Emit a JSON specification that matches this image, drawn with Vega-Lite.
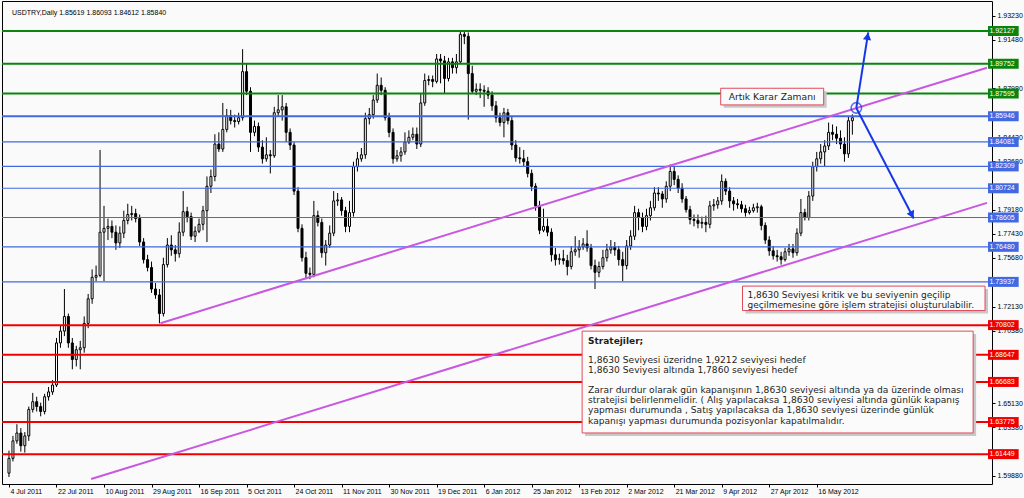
{
"$schema":"https://vega.github.io/schema/vega-lite/v6.json",
"width":990,"height":483,
"autosize":{"type":"none"},
"padding":{"left":2,"top":1,"right":32,"bottom":14},
"background":"#FAFAFA",
"config":{"view":{"stroke":"#000000","strokeWidth":1,"fill":"#FAFAFA"},"font":"Liberation Sans"},
"resolve":{"axis":{"x":"independent","y":"independent"}},
"datasets":{
"candles":[
{"i":0,"o":1.6007,"h":1.617,"l":1.5979,"c":1.6114},{"i":1,"o":1.6114,"h":1.6277,"l":1.6092,"c":1.6241},{"i":2,"o":1.6241,"h":1.6362,"l":1.622,"c":1.6298},{"i":3,"o":1.6298,"h":1.6334,"l":1.6163,"c":1.6206},{"i":4,"o":1.6206,"h":1.6305,"l":1.6156,"c":1.6277},{"i":5,"o":1.6277,"h":1.649,"l":1.6241,"c":1.6469},{"i":6,"o":1.6469,"h":1.6589,"l":1.6447,"c":1.6525},{"i":7,"o":1.6525,"h":1.6561,"l":1.6454,"c":1.649},{"i":8,"o":1.649,"h":1.6518,"l":1.6419,"c":1.6454},{"i":9,"o":1.6454,"h":1.6582,"l":1.6433,"c":1.6561},
{"i":10,"o":1.6561,"h":1.6632,"l":1.6533,"c":1.6596},{"i":11,"o":1.6596,"h":1.6682,"l":1.6575,"c":1.6646},{"i":12,"o":1.6646,"h":1.6987,"l":1.6632,"c":1.6951},{"i":13,"o":1.6951,"h":1.7079,"l":1.6916,"c":1.7037},{"i":14,"o":1.7037,"h":1.7342,"l":1.7001,"c":1.7143},{"i":15,"o":1.7143,"h":1.7164,"l":1.6916,"c":1.6951},{"i":16,"o":1.6951,"h":1.6987,"l":1.676,"c":1.6831},{"i":17,"o":1.6831,"h":1.693,"l":1.6781,"c":1.6902},{"i":18,"o":1.6902,"h":1.6966,"l":1.676,"c":1.6916},{"i":19,"o":1.6916,"h":1.7143,"l":1.688,"c":1.7093},
{"i":20,"o":1.7093,"h":1.7306,"l":1.7058,"c":1.7271},{"i":21,"o":1.7271,"h":1.7484,"l":1.7235,"c":1.7427},{"i":22,"o":1.7427,"h":1.7512,"l":1.7399,"c":1.7441},{"i":23,"o":1.7441,"h":1.835,"l":1.7427,"c":1.7754},{"i":24,"o":1.7754,"h":1.7945,"l":1.7399,"c":1.7782},{"i":25,"o":1.7782,"h":1.7853,"l":1.7697,"c":1.7796},{"i":26,"o":1.7796,"h":1.7839,"l":1.7711,"c":1.7754},{"i":27,"o":1.7754,"h":1.7803,"l":1.7626,"c":1.7676},{"i":28,"o":1.7676,"h":1.7796,"l":1.764,"c":1.7747},{"i":29,"o":1.7747,"h":1.791,"l":1.7711,"c":1.7839},
{"i":30,"o":1.7839,"h":1.796,"l":1.7811,"c":1.7882},{"i":31,"o":1.7882,"h":1.7945,"l":1.7839,"c":1.7889},{"i":32,"o":1.7889,"h":1.7924,"l":1.7825,"c":1.7853},{"i":33,"o":1.7853,"h":1.7882,"l":1.7654,"c":1.7683},{"i":34,"o":1.7683,"h":1.7711,"l":1.7527,"c":1.7555},{"i":35,"o":1.7555,"h":1.759,"l":1.747,"c":1.7498},{"i":36,"o":1.7498,"h":1.7541,"l":1.7314,"c":1.7342},{"i":37,"o":1.7342,"h":1.7385,"l":1.7271,"c":1.7299},{"i":38,"o":1.7299,"h":1.7342,"l":1.7093,"c":1.7164},{"i":39,"o":1.7164,"h":1.7569,"l":1.7143,"c":1.7519},
{"i":40,"o":1.7519,"h":1.7711,"l":1.7498,"c":1.7661},{"i":41,"o":1.7661,"h":1.7732,"l":1.7583,"c":1.7626},{"i":42,"o":1.7626,"h":1.7661,"l":1.7541,"c":1.7598},{"i":43,"o":1.7598,"h":1.7825,"l":1.7569,"c":1.7754},{"i":44,"o":1.7754,"h":1.8052,"l":1.7725,"c":1.7903},{"i":45,"o":1.7903,"h":1.7938,"l":1.7825,"c":1.7867},{"i":46,"o":1.7867,"h":1.7896,"l":1.7697,"c":1.7725},{"i":47,"o":1.7725,"h":1.7796,"l":1.7683,"c":1.7761},{"i":48,"o":1.7761,"h":1.7853,"l":1.7747,"c":1.7811},{"i":49,"o":1.7811,"h":1.7945,"l":1.7768,"c":1.791},
{"i":50,"o":1.791,"h":1.8158,"l":1.7683,"c":1.8087},{"i":51,"o":1.8087,"h":1.8208,"l":1.8038,"c":1.8158},{"i":52,"o":1.8158,"h":1.8464,"l":1.8123,"c":1.8393},{"i":53,"o":1.8393,"h":1.8478,"l":1.8336,"c":1.8357},{"i":54,"o":1.8357,"h":1.8691,"l":1.8336,"c":1.8499},{"i":55,"o":1.8499,"h":1.8648,"l":1.8478,"c":1.8599},{"i":56,"o":1.8599,"h":1.8641,"l":1.8535,"c":1.8563},{"i":57,"o":1.8563,"h":1.8606,"l":1.8513,"c":1.8556},{"i":58,"o":1.8556,"h":1.862,"l":1.8535,"c":1.8584},{"i":59,"o":1.8584,"h":1.9081,"l":1.8563,"c":1.8918},
{"i":60,"o":1.8918,"h":1.8975,"l":1.8748,"c":1.8776},{"i":61,"o":1.8776,"h":1.8805,"l":1.8336,"c":1.8478},{"i":62,"o":1.8478,"h":1.8563,"l":1.845,"c":1.8521},{"i":63,"o":1.8521,"h":1.8549,"l":1.8336,"c":1.8371},{"i":64,"o":1.8371,"h":1.8421,"l":1.8251,"c":1.8286},{"i":65,"o":1.8286,"h":1.8442,"l":1.8265,"c":1.8315},{"i":66,"o":1.8315,"h":1.835,"l":1.818,"c":1.8308},{"i":67,"o":1.8308,"h":1.8663,"l":1.8293,"c":1.862},{"i":68,"o":1.862,"h":1.8748,"l":1.8592,"c":1.8641},{"i":69,"o":1.8641,"h":1.8748,"l":1.8563,"c":1.8663},
{"i":70,"o":1.8663,"h":1.8691,"l":1.8407,"c":1.8478},{"i":71,"o":1.8478,"h":1.8506,"l":1.835,"c":1.8386},{"i":72,"o":1.8386,"h":1.8407,"l":1.8024,"c":1.8052},{"i":73,"o":1.8052,"h":1.808,"l":1.7754,"c":1.7782},{"i":74,"o":1.7782,"h":1.7811,"l":1.7541,"c":1.7569},{"i":75,"o":1.7569,"h":1.7612,"l":1.7413,"c":1.7456},{"i":76,"o":1.7456,"h":1.7498,"l":1.7413,"c":1.7448},{"i":77,"o":1.7448,"h":1.7981,"l":1.7427,"c":1.7874},{"i":78,"o":1.7874,"h":1.791,"l":1.7796,"c":1.7825},{"i":79,"o":1.7825,"h":1.7853,"l":1.7569,"c":1.7605},
{"i":80,"o":1.7605,"h":1.7697,"l":1.7512,"c":1.7661},{"i":81,"o":1.7661,"h":1.7803,"l":1.764,"c":1.7747},{"i":82,"o":1.7747,"h":1.8052,"l":1.7725,"c":1.7981},{"i":83,"o":1.7981,"h":1.8038,"l":1.7945,"c":1.7988},{"i":84,"o":1.7988,"h":1.8009,"l":1.7874,"c":1.791},{"i":85,"o":1.791,"h":1.7938,"l":1.7754,"c":1.7796},{"i":86,"o":1.7796,"h":1.7981,"l":1.7754,"c":1.7896},{"i":87,"o":1.7896,"h":1.8265,"l":1.7867,"c":1.8229},{"i":88,"o":1.8229,"h":1.8336,"l":1.8194,"c":1.8286},{"i":89,"o":1.8286,"h":1.8364,"l":1.8265,"c":1.8315},
{"i":90,"o":1.8315,"h":1.862,"l":1.8286,"c":1.8577},{"i":91,"o":1.8577,"h":1.8655,"l":1.8535,"c":1.8606},{"i":92,"o":1.8606,"h":1.8748,"l":1.8577,"c":1.8712},{"i":93,"o":1.8712,"h":1.8904,"l":1.8691,"c":1.8819},{"i":94,"o":1.8819,"h":1.8876,"l":1.8748,"c":1.8783},{"i":95,"o":1.8783,"h":1.8805,"l":1.8563,"c":1.8584},{"i":96,"o":1.8584,"h":1.862,"l":1.8442,"c":1.8478},{"i":97,"o":1.8478,"h":1.8506,"l":1.8251,"c":1.8286},{"i":98,"o":1.8286,"h":1.835,"l":1.8265,"c":1.8308},{"i":99,"o":1.8308,"h":1.8371,"l":1.8265,"c":1.8336},
{"i":100,"o":1.8336,"h":1.8478,"l":1.8315,"c":1.8407},{"i":101,"o":1.8407,"h":1.8492,"l":1.8393,"c":1.8442},{"i":102,"o":1.8442,"h":1.8513,"l":1.8421,"c":1.8464},{"i":103,"o":1.8464,"h":1.8513,"l":1.8357,"c":1.8393},{"i":104,"o":1.8393,"h":1.8762,"l":1.8371,"c":1.8691},{"i":105,"o":1.8691,"h":1.8904,"l":1.867,"c":1.8854},{"i":106,"o":1.8854,"h":1.889,"l":1.8819,"c":1.8861},{"i":107,"o":1.8861,"h":1.889,"l":1.8805,"c":1.8847},{"i":108,"o":1.8847,"h":1.9046,"l":1.8833,"c":1.901},{"i":109,"o":1.901,"h":1.9046,"l":1.8833,"c":1.8996},
{"i":110,"o":1.8996,"h":1.9032,"l":1.8762,"c":1.8868},{"i":111,"o":1.8868,"h":1.9018,"l":1.8847,"c":1.8989},{"i":112,"o":1.8989,"h":1.9018,"l":1.8904,"c":1.8947},{"i":113,"o":1.8947,"h":1.9046,"l":1.8904,"c":1.8989},{"i":114,"o":1.8989,"h":1.9209,"l":1.8975,"c":1.9188},{"i":115,"o":1.9188,"h":1.9209,"l":1.9117,"c":1.9174},{"i":116,"o":1.9174,"h":1.9202,"l":1.857,"c":1.8904},{"i":117,"o":1.8904,"h":1.8961,"l":1.8762,"c":1.8776},{"i":118,"o":1.8776,"h":1.8833,"l":1.8748,"c":1.879},{"i":119,"o":1.879,"h":1.8833,"l":1.8726,"c":1.8783},
{"i":120,"o":1.8783,"h":1.8819,"l":1.8663,"c":1.8776},{"i":121,"o":1.8776,"h":1.8805,"l":1.8719,"c":1.8748},{"i":122,"o":1.8748,"h":1.8776,"l":1.8634,"c":1.867},{"i":123,"o":1.867,"h":1.8705,"l":1.8549,"c":1.8584},{"i":124,"o":1.8584,"h":1.862,"l":1.8521,"c":1.8549},{"i":125,"o":1.8549,"h":1.8655,"l":1.8442,"c":1.862},{"i":126,"o":1.862,"h":1.8648,"l":1.8535,"c":1.8563},{"i":127,"o":1.8563,"h":1.8592,"l":1.835,"c":1.8386},{"i":128,"o":1.8386,"h":1.8421,"l":1.8265,"c":1.8293},{"i":129,"o":1.8293,"h":1.8371,"l":1.8251,"c":1.8286},
{"i":130,"o":1.8286,"h":1.835,"l":1.8229,"c":1.8265},{"i":131,"o":1.8265,"h":1.83,"l":1.8151,"c":1.818},{"i":132,"o":1.818,"h":1.8208,"l":1.8052,"c":1.8087},{"i":133,"o":1.8087,"h":1.8109,"l":1.791,"c":1.7945},{"i":134,"o":1.7945,"h":1.7981,"l":1.774,"c":1.7768},{"i":135,"o":1.7768,"h":1.7924,"l":1.7754,"c":1.7796},{"i":136,"o":1.7796,"h":1.7853,"l":1.7725,"c":1.7754},{"i":137,"o":1.7754,"h":1.7782,"l":1.7541,"c":1.759},{"i":138,"o":1.759,"h":1.764,"l":1.7512,"c":1.7555},{"i":139,"o":1.7555,"h":1.7598,"l":1.7519,"c":1.7562},
{"i":140,"o":1.7562,"h":1.7626,"l":1.7519,"c":1.7548},{"i":141,"o":1.7548,"h":1.759,"l":1.7441,"c":1.7505},{"i":142,"o":1.7505,"h":1.7654,"l":1.7484,"c":1.7612},{"i":143,"o":1.7612,"h":1.7725,"l":1.7583,"c":1.7626},{"i":144,"o":1.7626,"h":1.7697,"l":1.7569,"c":1.7647},{"i":145,"o":1.7647,"h":1.7711,"l":1.7626,"c":1.7669},{"i":146,"o":1.7669,"h":1.7768,"l":1.7612,"c":1.764},{"i":147,"o":1.764,"h":1.7669,"l":1.7484,"c":1.7512},{"i":148,"o":1.7512,"h":1.7555,"l":1.7342,"c":1.7463},{"i":149,"o":1.7463,"h":1.7541,"l":1.7427,"c":1.7505},
{"i":150,"o":1.7505,"h":1.7626,"l":1.7484,"c":1.7569},{"i":151,"o":1.7569,"h":1.7669,"l":1.7541,"c":1.7626},{"i":152,"o":1.7626,"h":1.7697,"l":1.7598,"c":1.7647},{"i":153,"o":1.7647,"h":1.7683,"l":1.7583,"c":1.7626},{"i":154,"o":1.7626,"h":1.7654,"l":1.7512,"c":1.7555},{"i":155,"o":1.7555,"h":1.7612,"l":1.7399,"c":1.7512},{"i":156,"o":1.7512,"h":1.7697,"l":1.7484,"c":1.7654},{"i":157,"o":1.7654,"h":1.7768,"l":1.7626,"c":1.7725},{"i":158,"o":1.7725,"h":1.7945,"l":1.7697,"c":1.7896},{"i":159,"o":1.7896,"h":1.7924,"l":1.7768,"c":1.786},
{"i":160,"o":1.786,"h":1.7896,"l":1.7754,"c":1.7796},{"i":161,"o":1.7796,"h":1.7924,"l":1.7768,"c":1.7874},{"i":162,"o":1.7874,"h":1.7981,"l":1.7839,"c":1.7931},{"i":163,"o":1.7931,"h":1.808,"l":1.791,"c":1.8038},{"i":164,"o":1.8038,"h":1.808,"l":1.7981,"c":1.8031},{"i":165,"o":1.8031,"h":1.8052,"l":1.7931,"c":1.7995},{"i":166,"o":1.7995,"h":1.8123,"l":1.7967,"c":1.8087},{"i":167,"o":1.8087,"h":1.8244,"l":1.8052,"c":1.8194},{"i":168,"o":1.8194,"h":1.8229,"l":1.8095,"c":1.8137},{"i":169,"o":1.8137,"h":1.8166,"l":1.8038,"c":1.8073},
{"i":170,"o":1.8073,"h":1.8109,"l":1.7967,"c":1.7995},{"i":171,"o":1.7995,"h":1.8016,"l":1.7896,"c":1.7917},{"i":172,"o":1.7917,"h":1.7945,"l":1.7811,"c":1.7846},{"i":173,"o":1.7846,"h":1.7882,"l":1.7796,"c":1.7839},{"i":174,"o":1.7839,"h":1.7882,"l":1.7782,"c":1.7818},{"i":175,"o":1.7818,"h":1.7867,"l":1.7782,"c":1.7825},{"i":176,"o":1.7825,"h":1.7874,"l":1.7754,"c":1.7811},{"i":177,"o":1.7811,"h":1.7981,"l":1.7782,"c":1.7945},{"i":178,"o":1.7945,"h":1.7995,"l":1.791,"c":1.7953},{"i":179,"o":1.7953,"h":1.8009,"l":1.7924,"c":1.7981},
{"i":180,"o":1.7981,"h":1.8173,"l":1.7953,"c":1.8123},{"i":181,"o":1.8123,"h":1.8144,"l":1.8024,"c":1.8052},{"i":182,"o":1.8052,"h":1.808,"l":1.7931,"c":1.7981},{"i":183,"o":1.7981,"h":1.8009,"l":1.791,"c":1.796},{"i":184,"o":1.796,"h":1.7995,"l":1.7924,"c":1.7953},{"i":185,"o":1.7953,"h":1.7981,"l":1.7896,"c":1.7924},{"i":186,"o":1.7924,"h":1.7953,"l":1.7867,"c":1.7896},{"i":187,"o":1.7896,"h":1.7938,"l":1.7882,"c":1.791},{"i":188,"o":1.791,"h":1.796,"l":1.7896,"c":1.7931},{"i":189,"o":1.7931,"h":1.7967,"l":1.7896,"c":1.7938},
{"i":190,"o":1.7938,"h":1.7953,"l":1.7768,"c":1.7803},{"i":191,"o":1.7803,"h":1.7825,"l":1.7669,"c":1.7697},{"i":192,"o":1.7697,"h":1.7725,"l":1.7583,"c":1.7619},{"i":193,"o":1.7619,"h":1.7654,"l":1.7555,"c":1.7583},{"i":194,"o":1.7583,"h":1.7626,"l":1.7541,"c":1.7576},{"i":195,"o":1.7576,"h":1.7612,"l":1.7519,"c":1.7555},{"i":196,"o":1.7555,"h":1.764,"l":1.7541,"c":1.7612},{"i":197,"o":1.7612,"h":1.7669,"l":1.7583,"c":1.7633},{"i":198,"o":1.7633,"h":1.7669,"l":1.7569,"c":1.7605},{"i":199,"o":1.7605,"h":1.7782,"l":1.7583,"c":1.7747},
{"i":200,"o":1.7747,"h":1.7995,"l":1.7725,"c":1.7896},{"i":201,"o":1.7896,"h":1.7924,"l":1.7839,"c":1.786},{"i":202,"o":1.786,"h":1.8052,"l":1.7839,"c":1.8016},{"i":203,"o":1.8016,"h":1.8265,"l":1.7981,"c":1.8229},{"i":204,"o":1.8229,"h":1.8336,"l":1.8194,"c":1.8286},{"i":205,"o":1.8286,"h":1.8393,"l":1.8251,"c":1.8336},{"i":206,"o":1.8336,"h":1.8421,"l":1.8229,"c":1.8379},{"i":207,"o":1.8379,"h":1.8549,"l":1.835,"c":1.8478},{"i":208,"o":1.8478,"h":1.8535,"l":1.8421,"c":1.8464},{"i":209,"o":1.8464,"h":1.8521,"l":1.8393,"c":1.8435},
{"i":210,"o":1.8435,"h":1.8492,"l":1.8357,"c":1.8393},{"i":211,"o":1.8393,"h":1.8442,"l":1.8265,"c":1.8322},{"i":212,"o":1.8322,"h":1.8592,"l":1.8293,"c":1.8562},{"i":213,"o":1.85619,"h":1.86093,"l":1.84612,"c":1.8584}
],
"levels":[
{"v":1.92127,"k":"g"},{"v":1.89752,"k":"g"},{"v":1.87595,"k":"g"},
{"v":1.85946,"k":"b"},{"v":1.84081,"k":"b"},{"v":1.82309,"k":"b"},{"v":1.80724,"k":"b"},{"v":1.78605,"k":"b"},{"v":1.7648,"k":"b"},{"v":1.73937,"k":"b"},
{"v":1.70802,"k":"r"},{"v":1.68647,"k":"r"},{"v":1.66683,"k":"r"},{"v":1.63775,"k":"r"},{"v":1.61449,"k":"r"}
],
"trend":[
{"t":"upper","i":38.25,"p":1.70935},{"t":"upper","i":247,"p":1.89466},
{"t":"lower","i":20.75,"p":1.59646},{"t":"lower","i":247,"p":1.79668}
],
"arrows":[
{"a":"up","i":214,"p":1.8655},{"a":"up","i":217,"p":1.92022},
{"a":"down","i":214,"p":1.8655},{"a":"down","i":228.5,"p":1.78532}
]
},
"layer":[
{"data":{"name":"candles"},"mark":{"type":"rule","color":"#000000","strokeWidth":1},
"encoding":{
"x":{"field":"i","type":"quantitative","scale":{"domain":[-0.5,247],"nice":false,"zero":false},
 "axis":{"values":[0,12,24,36,48,60,72,84,96,108,120,132,144,156,168,180,192,204],
 "labelExpr":"['4 Jul 2011','22 Jul 2011','10 Aug 2011','29 Aug 2011','16 Sep 2011','5 Oct 2011','24 Oct 2011','11 Nov 2011','30 Nov 2011','19 Dec 2011','6 Jan 2012','25 Jan 2012','13 Feb 2012','2 Mar 2012','21 Mar 2012','9 Apr 2012','27 Apr 2012','16 May 2012'][round(datum.value/12)]",
 "grid":false,"domain":false,"tickSize":3,"tickColor":"#000000","labelFont":"Liberation Sans","labelFontSize":7,"labelColor":"#000000","labelAlign":"left","labelBaseline":"top","labelPadding":0,"labelOffset":1,"labelFlush":false,"labelOverlap":false,"title":null}},
"y":{"field":"l","type":"quantitative","scale":{"domain":[1.59646,1.93939],"nice":false,"zero":false},
 "axis":{"orient":"right","values":[1.9323,1.9148,1.8798,1.8443,1.8268,1.7918,1.7743,1.7568,1.7213,1.7038,1.6513,1.6338,1.5988],
 "format":".5f","grid":false,"domain":false,"tickSize":3,"tickColor":"#000000","labelPadding":2,"labelFont":"Liberation Sans","labelFontSize":7,"labelColor":"#000000","labelOverlap":false,"labelFlush":false,"title":null}},
"y2":{"field":"h"}}},
{"data":{"name":"candles"},"mark":{"type":"bar","size":2,"stroke":"#000000","strokeWidth":1},
"encoding":{
"x":{"field":"i","type":"quantitative","axis":null},
"y":{"field":"o","type":"quantitative","axis":null},
"y2":{"field":"c"},
"fill":{"condition":{"test":"datum.c >= datum.o","value":"#FFFFFF"},"value":"#000000"}}},
{"data":{"name":"levels"},"mark":{"type":"rule"},
"encoding":{
"y":{"field":"v","type":"quantitative","axis":null},
"color":{"field":"k","type":"nominal","scale":{"domain":["g","b","r"],"range":["#0B840B","#4169E1","#F00000"]},"legend":null},
"strokeWidth":{"condition":{"test":"datum.k == 'b' && datum.v != 1.85946","value":1.2},"value":2}}},
{"data":{"name":"trend"},"mark":{"type":"line","color":"#C858E0","strokeWidth":2,"clip":true},
"encoding":{
"x":{"field":"i","type":"quantitative","axis":null},
"y":{"field":"p","type":"quantitative","axis":null},
"detail":{"field":"t"}}},
{"data":{"name":"arrows"},"mark":{"type":"line","color":"#1638E6","strokeWidth":2},
"encoding":{
"x":{"field":"i","type":"quantitative","axis":null},
"y":{"field":"p","type":"quantitative","axis":null},
"detail":{"field":"a"}}},
{"data":{"values":[{"label":"1,8630"}]},"mark":{"type":"point","shape":"circle","size":110,"filled":false,"stroke":"#1638E6","strokeWidth":1.6},
"encoding":{"x":{"datum":214,"axis":null},"y":{"datum":1.8655,"axis":null}}},
{"data":{"values":[{"label":"up"}]},"mark":{"type":"point","shape":"triangle-up","size":70,"filled":true,"color":"#1638E6","opacity":1,"angle":9},
"encoding":{"x":{"datum":216.85,"axis":null},"y":{"datum":1.91738,"axis":null}}},
{"data":{"values":[{"label":"down"}]},"mark":{"type":"point","shape":"triangle-up","size":70,"filled":true,"color":"#1638E6","opacity":1,"angle":153},
"encoding":{"x":{"datum":228.05,"axis":null},"y":{"datum":1.78788,"axis":null}}},
{"data":{"name":"levels"},"mark":{"type":"bar","size":10,"clip":false},
"encoding":{
"y":{"field":"v","type":"quantitative","axis":null},
"x":{"datum":247.25,"axis":null},"x2":{"datum":255},
"color":{"field":"k","type":"nominal","scale":{"domain":["g","b","r"],"range":["#0B840B","#4169E1","#F00000"]},"legend":null}}},
{"data":{"name":"levels"},"mark":{"type":"text","align":"left","baseline":"middle","color":"#FFFFFF","font":"Liberation Sans","fontSize":7,"clip":false},
"encoding":{
"y":{"field":"v","type":"quantitative","axis":null},
"x":{"datum":247.6,"axis":null},
"text":{"field":"v","type":"quantitative","format":".5f"}}},
{"data":{"values":[{"label":"shadow"}]},"mark":{"type":"rect","fill":"#C8C8C8"},
"encoding":{"x":{"datum":180.5,"axis":null},"x2":{"datum":206.5},"y":{"datum":1.87762,"axis":null},"y2":{"datum":1.86555}}},
{"data":{"values":[{"label":"box"}]},"mark":{"type":"rect","fill":"#FBFBFB","stroke":"#E0485A","strokeWidth":1},
"encoding":{"x":{"datum":179.75,"axis":null},"x2":{"datum":205.75},"y":{"datum":1.87975,"axis":null},"y2":{"datum":1.86768}}},
{"data":{"values":[{"label":"Artık Karar Zamanı"}]},"mark":{"type":"text","align":"left","baseline":"middle","font":"DejaVu Sans","fontSize":9.2,"color":"#1E1E1E"},
"encoding":{"x":{"datum":181.75,"axis":null},"y":{"datum":1.87372,"axis":null},"text":{"field":"label"}}},
{"data":{"values":[{"label":"shadow"}]},"mark":{"type":"rect","fill":"#C8C8C8","clip":false},
"encoding":{"x":{"datum":186,"axis":null},"x2":{"datum":247.25},"y":{"datum":1.7342,"axis":null},"y2":{"datum":1.71645}}},
{"data":{"values":[{"label":"box"}]},"mark":{"type":"rect","fill":"#FBFBFB","stroke":"#E0485A","strokeWidth":1},
"encoding":{"x":{"datum":185.25,"axis":null},"x2":{"datum":246.5},"y":{"datum":1.73633,"axis":null},"y2":{"datum":1.71858}}},
{"data":{"values":[{"label":"1,8630 Seviyesi kritik ve bu seviyenin geçilip\ngeçilmemesine göre işlem stratejisi oluşturulabilir."}]},"mark":{"type":"text","align":"left","baseline":"middle","font":"DejaVu Sans","fontSize":9,"lineHeight":10,"lineBreak":"\n","color":"#1E1E1E"},
"encoding":{"x":{"datum":186.5,"axis":null},"y":{"datum":1.72994,"axis":null},"text":{"field":"label"}}},
{"data":{"values":[{"label":"shadow"}]},"mark":{"type":"rect","fill":"#C8C8C8"},
"encoding":{"x":{"datum":145.5,"axis":null},"x2":{"datum":244.25},"y":{"datum":1.70154,"axis":null},"y2":{"datum":1.6277}}},
{"data":{"values":[{"label":"box"}]},"mark":{"type":"rect","fill":"#FBFBFB","stroke":"#E0485A","strokeWidth":1},
"encoding":{"x":{"datum":144.75,"axis":null},"x2":{"datum":243.5},"y":{"datum":1.70367,"axis":null},"y2":{"datum":1.62983}}},
{"data":{"values":[{"label":"Stratejiler;"}]},"mark":{"type":"text","align":"left","baseline":"middle","font":"DejaVu Sans","fontSize":9,"fontWeight":"bold","color":"#1E1E1E"},
"encoding":{"x":{"datum":146.25,"axis":null},"y":{"datum":1.69657,"axis":null},"text":{"field":"label"}}},
{"data":{"values":[{"label":"1,8630 Seviyesi üzeridne 1,9212 seviyesi hedef\n1,8630 Seviyesi altında 1,7860 seviyesi hedef"}]},"mark":{"type":"text","align":"left","baseline":"middle","font":"DejaVu Sans","fontSize":9.1,"lineHeight":10.3,"lineBreak":"\n","color":"#1E1E1E"},
"encoding":{"x":{"datum":146.25,"axis":null},"y":{"datum":1.68308,"axis":null},"text":{"field":"label"}}},
{"data":{"values":[{"label":"Zarar durdur olarak gün kapanışının 1,8630 seviyesi altında ya da üzerinde olması\nstratejisi belirlenmelidir. ( Alış yapılacaksa 1,8630 seviyesi altında günlük kapanış\nyapması durumunda , Satış yapılacaksa da 1,8630 seviyesi üzerinde günlük\nkapanışı yapması durumunda pozisyonlar kapatılmalıdır."}]},"mark":{"type":"text","align":"left","baseline":"middle","font":"DejaVu Sans","fontSize":9.1,"lineHeight":10.3,"lineBreak":"\n","color":"#1E1E1E"},
"encoding":{"x":{"datum":146.25,"axis":null},"y":{"datum":1.66107,"axis":null},"text":{"field":"label"}}},
{"data":{"values":[{"label":"USDTRY,Daily  1.85619 1.86093 1.84612 1.85840"}]},"mark":{"type":"text","align":"left","baseline":"middle","font":"Liberation Sans","fontSize":7,"color":"#000000"},
"encoding":{"x":{"datum":0.75,"axis":null},"y":{"datum":1.93442,"axis":null},"text":{"field":"label"}}}
]
}
